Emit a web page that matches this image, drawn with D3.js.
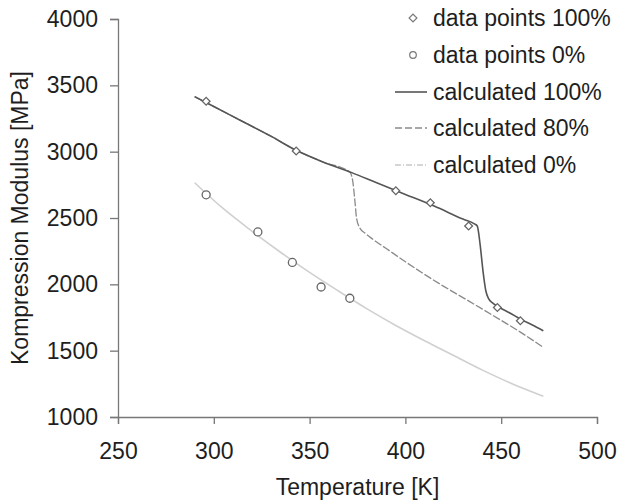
<!DOCTYPE html>
<html>
<head>
<meta charset="utf-8">
<script src="https://cdn.jsdelivr.net/npm/d3@7"></script>
<style>
  body { margin: 0; background: #fff; }
  text { font-family: "Liberation Sans", Arial, sans-serif; fill: #1e1e1e; }
</style>
</head>
<body>
<script>
// measured points (diamonds = 100%, circles = 0%)
const temp100 = [296, 343, 395, 413, 433, 448, 460];
const mod100 = [3380, 3005, 2705, 2615, 2440, 1825, 1725];
const temp0 = [296, 323, 341, 356, 371];
const mod0 = [2675, 2395, 2165, 1980, 1895];

// calculated curves
const calc100T = [290, 300, 315, 330, 343, 357, 372, 385, 400, 415, 430, 436, 437.5, 439, 440.5, 442, 443.5, 445.5, 448, 455, 460, 466, 472];
const calc100E = [3415, 3340, 3228, 3115, 3010, 2922, 2842, 2765, 2678, 2590, 2492, 2456, 2440, 2300, 2100, 1950, 1890, 1860, 1835, 1780, 1738, 1695, 1650];
const calc80T = [290, 300, 315, 330, 343, 357, 371, 372.5, 373.5, 374.5, 376, 379, 383, 390, 400, 410, 420, 430, 440, 450, 460, 472];
const calc80E = [3415, 3340, 3228, 3115, 3010, 2922, 2846, 2780, 2650, 2500, 2430, 2385, 2340, 2270, 2170, 2075, 1985, 1900, 1815, 1728, 1640, 1525];
const calc0T = [290, 305, 320, 335, 350, 365, 380, 395, 410, 425, 440, 455, 472];
const calc0E = [2766, 2570, 2400, 2240, 2090, 1950, 1815, 1690, 1575, 1465, 1355, 1255, 1157];

const xTicks = [250, 300, 350, 400, 450, 500];
const yTicks = [1000, 1500, 2000, 2500, 3000, 3500, 4000];
const legendLabels = ["data points 100%", "data points 0%", "calculated 100%", "calculated 80%", "calculated 0%"];

const width = 618;
const height = 502;
const margin = {"left":118,"right":21,"top":19,"bottom":85};
const fontSize = 23;

const svg = d3.select("body").append("svg").attr("width",width).attr("height",height);

const xScale = d3.scaleLinear().domain([250,500]).range([margin.left,width-margin.right]);
const yScale = d3.scaleLinear().domain([1000,4000]).range([height-margin.bottom,margin.top]);

const xAxis = d3.axisBottom(xScale).tickValues(xTicks).tickSize(7).tickPadding(19).tickFormat(d3.format("d"));
const yAxis = d3.axisLeft(yScale).tickValues(yTicks).tickSize(8).tickPadding(12).tickFormat(d3.format("d"));

const gx = svg.append("g").attr("transform",`translate(0,${height-margin.bottom})`).call(xAxis);
const gy = svg.append("g").attr("transform",`translate(${margin.left},0)`).call(yAxis);
[gx, gy].forEach(g=>{
  g.select(".domain").attr("stroke","#777").attr("stroke-width",1.3);
  g.selectAll(".tick line").attr("stroke","#777").attr("stroke-width",1.3);
  g.selectAll(".tick text").attr("font-size",fontSize).attr("font-family","Liberation Sans, Arial, sans-serif").attr("fill","#1e1e1e");
});

svg.append("text").attr("x",(margin.left+width-margin.right)/2).attr("y",495)
  .attr("text-anchor","middle").attr("font-size",fontSize).text("Temperature [K]");
svg.append("text").attr("transform",`translate(28,${(margin.top+height-margin.bottom)/2}) rotate(-90)`)
  .attr("text-anchor","middle").attr("font-size",fontSize).text("Kompression Modulus [MPa]");

const line = d3.line().x(d=>xScale(d[0])).y(d=>yScale(d[1])).curve(d3.curveMonotoneX);

const styles = [
  {stroke:"#d0d0d0", width:1.6, dash:null},
  {stroke:"#8a8a8a", width:1.3, dash:"8,2"},
  {stroke:"#555", width:1.6, dash:null}
];
const curves = [d3.zip(calc0T,calc0E), d3.zip(calc80T,calc80E), d3.zip(calc100T,calc100E)];
curves.forEach((c,i)=>{
  svg.append("path").datum(c).attr("d",line).attr("fill","none")
    .attr("stroke",styles[i].stroke).attr("stroke-width",styles[i].width)
    .attr("stroke-dasharray",styles[i].dash);
});

const diamond = d3.symbol().type(d3.symbolSquare).size(30);

svg.selectAll(".pt100").data(d3.zip(temp100,mod100)).enter().append("path")
  .attr("class","pt100").attr("d",diamond)
  .attr("transform",d=>`translate(${xScale(d[0])},${yScale(d[1])}) rotate(45)`)
  .attr("fill","#fff").attr("stroke","#666").attr("stroke-width",1.3);

svg.selectAll(".pt0").data(d3.zip(temp0,mod0)).enter().append("circle")
  .attr("class","pt0").attr("cx",d=>xScale(d[0])).attr("cy",d=>yScale(d[1])).attr("r",4)
  .attr("fill","#fff").attr("stroke","#666").attr("stroke-width",1.3);

// legend
const legend = svg.append("g");
const rowY = [18, 55, 92, 128, 165];
legend.selectAll("text").data(legendLabels).enter().append("text")
  .attr("x",433).attr("y",(d,i)=>rowY[i]).attr("dy","0.35em")
  .attr("font-size",fontSize).text(d=>d);
legend.append("path").attr("d",diamond)
  .attr("transform",`translate(413,${rowY[0]}) rotate(45)`)
  .attr("fill","#fff").attr("stroke","#777").attr("stroke-width",1.2);
legend.append("circle").attr("cx",413).attr("cy",rowY[1]).attr("r",3.3)
  .attr("fill","#fff").attr("stroke","#777").attr("stroke-width",1.2);
const legendLines = [
  {stroke:"#555", width:1.6, dash:null},
  {stroke:"#8a8a8a", width:1.3, dash:"7,3"},
  {stroke:"#c8c8c8", width:1.4, dash:"6,2,1,2"}
];
legendLines.forEach((s,i)=>{
  legend.append("line").attr("x1",395).attr("x2",427).attr("y1",rowY[i+2]).attr("y2",rowY[i+2])
    .attr("stroke",s.stroke).attr("stroke-width",s.width).attr("stroke-dasharray",s.dash);
});
</script>
</body>
</html>
